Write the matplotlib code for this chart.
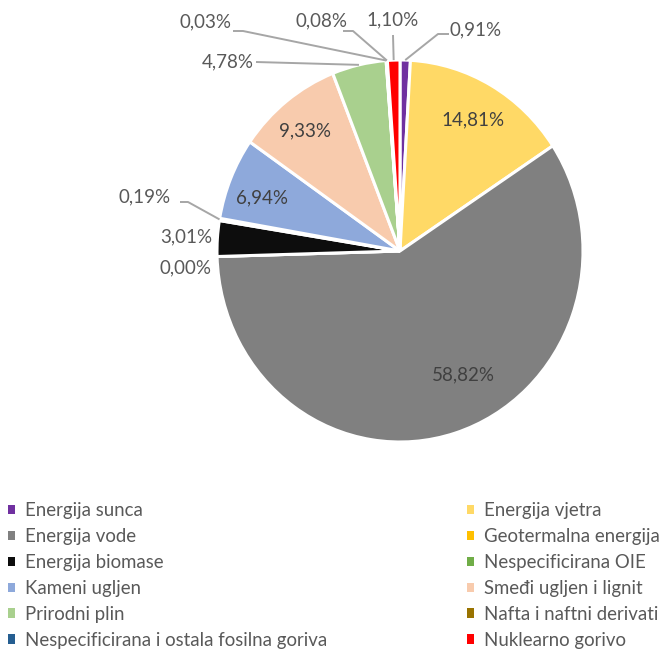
import matplotlib
matplotlib.use("Agg")
import matplotlib.pyplot as plt
import matplotlib.patches as mpatches
import numpy as np

# ---- data ----
categories = [
    "Energija sunca", "Energija vjetra", "Energija vode", "Geotermalna energija",
    "Energija biomase", "Nespecificirana OIE", "Kameni ugljen", "Smeđi ugljen i lignit",
    "Prirodni plin", "Nafta i naftni derivati", "Nespecificirana i ostala fosilna goriva",
    "Nuklearno gorivo",
]
shares = [0.91, 14.81, 58.82, 0.00, 3.01, 0.19, 6.94, 9.33, 4.78, 0.03, 0.08, 1.10]
colors = ["#7030A0", "#FFD966", "#808080", "#FFC000", "#0D0D0D", "#70AD47",
          "#8EA9DB", "#F8CBAD", "#A9D08E", "#997300", "#255E91", "#FF0000"]

# ---- layout (pixel coordinates of the 669x652 image, y measured from top) ----
W, H = 669, 652
CX, CY = 400, 251
RX, RY = 183, 191          # the reference pie is slightly taller than wide
SY = RX / RY               # vertical data scale so the pie becomes an ellipse

label_pos = {
    0: (476, 30), 1: (473, 120), 2: (463, 375), 3: (186, 268),
    4: (186, 237), 5: (145, 197), 6: (262, 198), 7: (305, 131),
    8: (228, 62), 9: (205, 22), 10: (322, 21), 11: (393, 20),
}
leaders = {
    0: [(449, 34), (438, 34)],
    5: [(180, 202), (188, 202)],
    8: [(256, 62)],
    9: [(233, 31), (243, 31)],
    10: [(343, 31), (353, 31)],
    11: [(393, 35)],
}
inside = {1, 2, 6, 7}


def dy(y_img):
    return (H - y_img) * SY


plt.rcParams['font.family'] = ['Lato', 'DejaVu Sans']
fig = plt.figure(figsize=(W / 100, H / 100), dpi=100)
ax = fig.add_axes([0, 0, 1, 1])

wedges, _ = ax.pie(shares, colors=colors, startangle=90, counterclock=False,
                   center=(CX, dy(CY)), radius=RX,
                   wedgeprops=dict(edgecolor='white', linewidth=2.2))
ax.set_aspect('auto')
ax.set_xlim(0, W)
ax.set_ylim(0, H * SY)
ax.axis('off')

total = sum(shares)
cum = 0.0
for i, v in enumerate(shares):
    mid = 90 - (cum + v / 2) / total * 360
    cum += v
    txt = f"{v:.2f}".replace('.', ',') + '%'
    tx, ty = label_pos[i]
    ax.text(tx, dy(ty), txt, ha='center', va='center', fontsize=13.5,
            color='#404040' if i in inside else '#595959')
    if i in leaders:
        ex = CX + RX * np.cos(np.radians(mid))
        ey = dy(CY) + RX * np.sin(np.radians(mid))
        pts = [(x, dy(y)) for x, y in leaders[i]] + [(ex, ey)]
        xs, ys = zip(*pts)
        ax.plot(xs, ys, color='#A6A6A6', lw=1.4, solid_capstyle='butt')

handles = [mpatches.Patch(facecolor=c, edgecolor='none') for c in colors]
order = [0, 2, 4, 6, 8, 10, 1, 3, 5, 7, 9, 11]
fs = 13.4
fig.legend([handles[i] for i in order], [categories[i] for i in order],
           loc='upper left', bbox_to_anchor=(8 / W, 1 - 502 / H), ncol=2,
           frameon=False, fontsize=fs, handlelength=0.38, handleheight=0.38,
           handletextpad=0.54, labelspacing=0.48, columnspacing=7.5,
           borderpad=0, borderaxespad=0, labelcolor='#595959')

fig.savefig("out.png", dpi=100)
